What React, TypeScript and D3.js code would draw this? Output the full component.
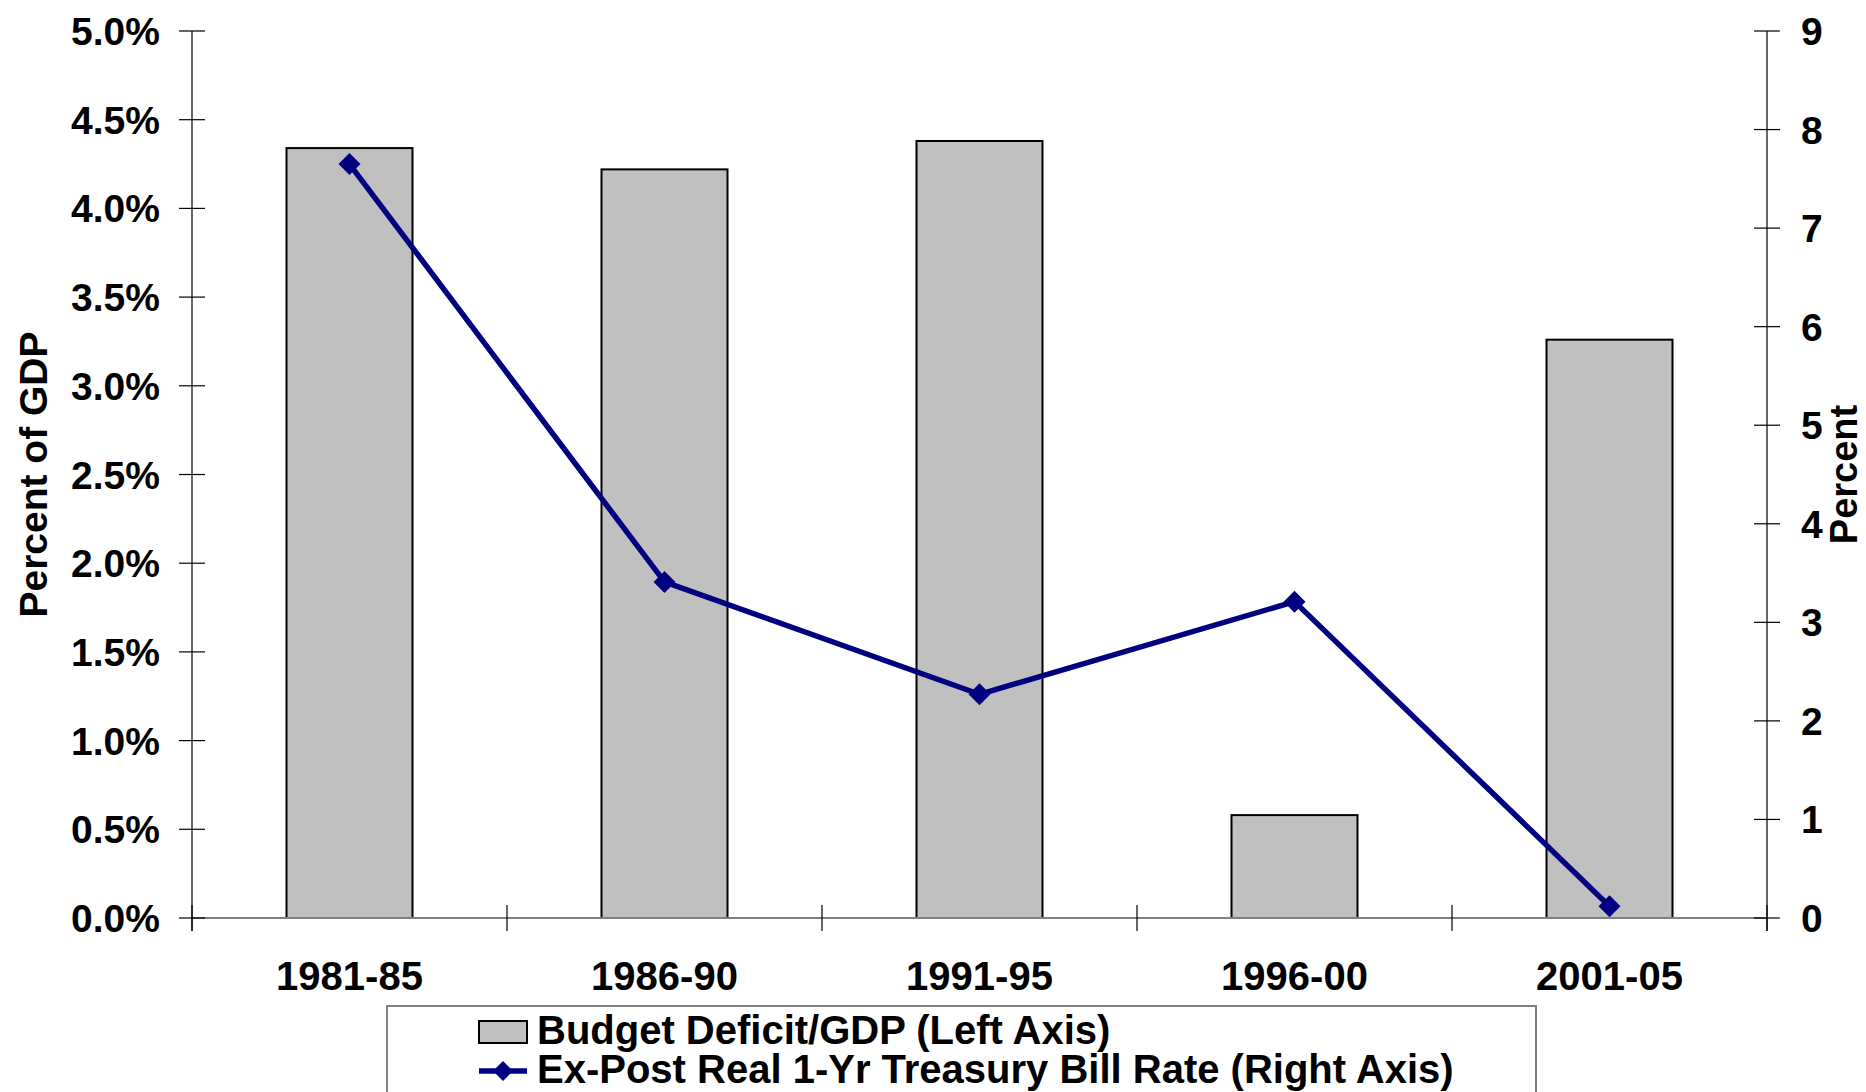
import * as d3 from "d3";

const periods = ["1981-85", "1986-90", "1991-95", "1996-00", "2001-05"];
const deficitPct = [4.34, 4.22, 4.38, 0.58, 3.26];
const billRate = [7.65, 3.41, 2.27, 3.21, 0.12];
const leftTicks = [0, 0.5, 1, 1.5, 2, 2.5, 3, 3.5, 4, 4.5, 5];
const rightTicks = [0, 1, 2, 3, 4, 5, 6, 7, 8, 9];
const legendLabels = [
  "Budget Deficit/GDP (Left Axis)",
  "Ex-Post Real 1-Yr Treasury Bill Rate (Right Axis)",
];

const W = 1866;
const H = 1092;
const FONT = "'Liberation Sans', Arial, sans-serif";
const NAVY = "#000080";

export default function App() {
  const left = 192;
  const right = 1767;
  const top = 31;
  const bottom = 918;

  // category bands, bars take 40% of the step
  const x = d3
    .scaleBand<string>()
    .domain(periods)
    .range([left, right])
    .paddingInner(0.6)
    .paddingOuter(0.3);
  const xCell = d3.scaleBand<string>().domain(periods).range([left, right]).padding(0);

  const yL = d3.scaleLinear().domain([0, 5]).range([bottom, top]);
  const yR = d3.scaleLinear().domain([0, 9]).range([bottom, top]);

  const line = d3
    .line<number>()
    .x((_, i) => x(periods[i])! + x.bandwidth() / 2)
    .y((d) => yR(d));

  const diamond = (cx: number, cy: number, r = 11) =>
    `M${cx},${cy - r}L${cx + r},${cy}L${cx},${cy + r}L${cx - r},${cy}Z`;

  const cellEdges = [...periods.map((p) => xCell(p)!), right];

  return (
    <div style={{ position: "absolute", left: 0, top: 0 }}>
      <svg width={W} height={H} style={{ display: "block", background: "#fff" }}>
        <g fontFamily={FONT} fontWeight="bold">
          {/* bars */}
          {periods.map((p, i) => (
            <rect
              key={p}
              x={x(p)}
              y={yL(deficitPct[i])}
              width={x.bandwidth()}
              height={bottom - yL(deficitPct[i])}
              fill="#c0c0c0"
              stroke="#000"
              strokeWidth={2}
            />
          ))}

          {/* bottom axis */}
          <line x1={left} x2={right} y1={bottom} y2={bottom} stroke="#808080" strokeWidth={2} />
          {cellEdges.map((ex, i) => (
            <line key={i} x1={ex} x2={ex} y1={bottom - 13} y2={bottom + 13} stroke="#000" strokeWidth={1.2} />
          ))}
          {periods.map((p) => (
            <text key={p} x={x(p)! + x.bandwidth() / 2} y={990} textAnchor="middle" fontSize={40}>
              {p}
            </text>
          ))}

          {/* left axis */}
          <line x1={left} x2={left} y1={top} y2={bottom + 13} stroke="#000" strokeWidth={1.2} />
          {leftTicks.map((t) => (
            <g key={t}>
              <line x1={left - 13} x2={left + 13} y1={yL(t)} y2={yL(t)} stroke="#000" strokeWidth={1.2} />
              <text x={left - 32} y={yL(t)} dy="0.36em" textAnchor="end" fontSize={39}>
                {t.toFixed(1) + "%"}
              </text>
            </g>
          ))}
          <text
            transform={`translate(47, ${(top + bottom) / 2}) rotate(-90)`}
            textAnchor="middle"
            fontSize={39}
          >
            Percent of GDP
          </text>

          {/* right axis */}
          <line x1={right} x2={right} y1={top} y2={bottom + 13} stroke="#000" strokeWidth={1.2} />
          {rightTicks.map((t) => (
            <g key={t}>
              <line x1={right - 13} x2={right + 13} y1={yR(t)} y2={yR(t)} stroke="#000" strokeWidth={1.2} />
              <text x={right + 34} y={yR(t)} dy="0.36em" textAnchor="start" fontSize={39}>
                {t}
              </text>
            </g>
          ))}
          <text
            transform={`translate(1857, ${(top + bottom) / 2}) rotate(-90)`}
            textAnchor="middle"
            fontSize={38}
          >
            Percent
          </text>

          {/* bill rate line */}
          <path d={line(billRate) ?? ""} fill="none" stroke={NAVY} strokeWidth={5.5} strokeLinejoin="round" />
          {billRate.map((v, i) => (
            <path key={i} d={diamond(x(periods[i])! + x.bandwidth() / 2, yR(v))} fill={NAVY} />
          ))}

          {/* legend */}
          <rect x={387} y={1006} width={1149} height={120} fill="#fff" stroke="#808080" strokeWidth={2} />
          <rect x={479} y={1021} width={48} height={22} fill="#c0c0c0" stroke="#000" strokeWidth={2} />
          <text x={537} y={1044} fontSize={40}>
            {legendLabels[0]}
          </text>
          <line x1={479} x2={527} y1={1071} y2={1071} stroke={NAVY} strokeWidth={5.5} />
          <path d={diamond(503, 1071, 10)} fill={NAVY} />
          <text x={537} y={1083} fontSize={40}>
            {legendLabels[1]}
          </text>
        </g>
      </svg>
    </div>
  );
}
